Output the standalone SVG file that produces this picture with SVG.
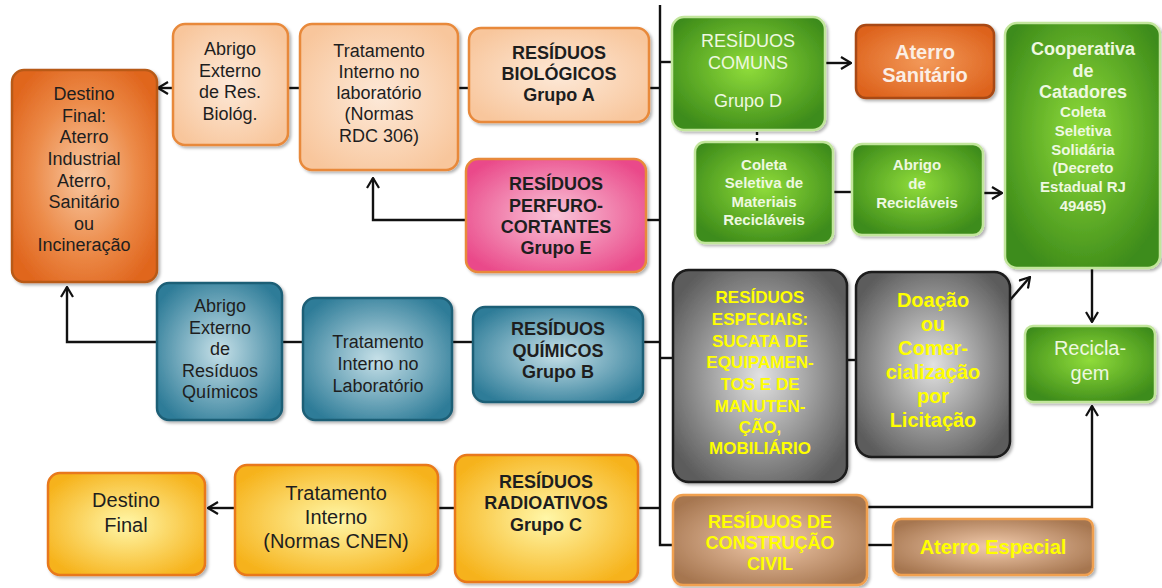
<svg xmlns="http://www.w3.org/2000/svg" width="1162" height="588" viewBox="0 0 1162 588">
<defs>
<radialGradient id="gOrange" cx="50%" cy="50%" r="60%"><stop offset="0" stop-color="#f8c8a2"/><stop offset="0.6" stop-color="#ec8a48"/><stop offset="1" stop-color="#e0661e"/></radialGradient>
<radialGradient id="gPeach" cx="50%" cy="50%" r="60%"><stop offset="0" stop-color="#fde9d8"/><stop offset="1" stop-color="#f8c69c"/></radialGradient>
<radialGradient id="gPink" cx="50%" cy="50%" r="60%"><stop offset="0" stop-color="#f9c4d8"/><stop offset="1" stop-color="#ea4a8a"/></radialGradient>
<radialGradient id="gGreen" cx="50%" cy="45%" r="60%"><stop offset="0" stop-color="#8fdc3a"/><stop offset="1" stop-color="#3e8c1a"/></radialGradient>
<radialGradient id="gAterro" cx="50%" cy="50%" r="60%"><stop offset="0" stop-color="#f39a5a"/><stop offset="1" stop-color="#dd621c"/></radialGradient>
<radialGradient id="gTeal" cx="50%" cy="50%" r="60%"><stop offset="0" stop-color="#c6e0e8"/><stop offset="1" stop-color="#2e7c98"/></radialGradient>
<radialGradient id="gGray" cx="50%" cy="50%" r="60%"><stop offset="0" stop-color="#e2e2e2"/><stop offset="1" stop-color="#5c5c5c"/></radialGradient>
<radialGradient id="gBrown" cx="50%" cy="50%" r="60%"><stop offset="0" stop-color="#f2cbac"/><stop offset="1" stop-color="#a67650"/></radialGradient>
<radialGradient id="gYellow" cx="50%" cy="50%" r="60%"><stop offset="0" stop-color="#fff7a8"/><stop offset="1" stop-color="#f6b21a"/></radialGradient>
<filter id="sh" x="-10%" y="-10%" width="125%" height="125%"><feDropShadow dx="2" dy="2" stdDeviation="1.5" flood-color="#000" flood-opacity="0.3"/></filter>
<marker id="arr" viewBox="0 0 12 14" refX="11" refY="7" markerWidth="12" markerHeight="14" markerUnits="userSpaceOnUse" orient="auto"><path d="M1,1 L11,7 L1,13" fill="none" stroke="#111" stroke-width="2.2"/></marker>
<style>
.b{filter:url(#sh);stroke-width:2.5}
.orange{fill:url(#gOrange);stroke:#b85a18}
.peach{fill:url(#gPeach);stroke:#e8893a}
.pink{fill:url(#gPink);stroke:#e8893a}
.green{fill:url(#gGreen);stroke:#c2e69c}
.aterro{fill:url(#gAterro);stroke:#a84a12}
.teal{fill:url(#gTeal);stroke:#1f5e76}
.gray{fill:url(#gGray);stroke:#1a1a1a}
.brown{fill:url(#gBrown);stroke:#f0a050}
.yellow{fill:url(#gYellow);stroke:#e8781a}
text{font-family:"Liberation Sans",Arial,sans-serif;text-anchor:middle}
.t{font-size:18px;fill:#1e1e1e}
.tb{font-size:18px;font-weight:bold;fill:#1e1e1e}
.w{fill:#eef8e0}
.y{fill:#ffff00;font-weight:bold}
.c{fill:none;stroke:#111;stroke-width:2.4}
</style>
</defs>

<g id="connectors">
<path class="c" d="M660,5 V545 H673"/>
<path class="c" d="M173,88 H158" marker-end="url(#arr)"/>
<path class="c" d="M288,88 H300"/>
<path class="c" d="M458,88 H469"/>
<path class="c" d="M649,88 H660"/>
<path class="c" d="M466,220 H373 V178" marker-end="url(#arr)"/>
<path class="c" d="M646,220 H660"/>
<path class="c" d="M660,62 H672"/>
<path class="c" d="M826,63 H851" marker-end="url(#arr)"/>
<path class="c" d="M757,132 V141" stroke-dasharray="3,3"/>
<path class="c" d="M833,192 H852"/>
<path class="c" d="M983,193 H1002" marker-end="url(#arr)"/>
<path class="c" d="M157,342 H67 V287" marker-end="url(#arr)"/>
<path class="c" d="M282,342 H303"/>
<path class="c" d="M452,342 H473"/>
<path class="c" d="M643,342 H660"/>
<path class="c" d="M660,358 H673"/>
<path class="c" d="M847,360 H856"/>
<path class="c" d="M1010,300 L1030,277" marker-end="url(#arr)"/>
<path class="c" d="M1092,268 V322" marker-end="url(#arr)"/>
<path class="c" d="M865,507 H1092 V406" marker-end="url(#arr)"/>
<path class="c" d="M867,545 H893"/>
<path class="c" d="M455,508 H438"/>
<path class="c" d="M235,508 H208" marker-end="url(#arr)"/>
<path class="c" d="M638,508 H660"/>
</g>

<g id="destino-final-1">
<rect class="b orange" x="12" y="70" width="145" height="212" rx="12"/>
<text class="t"><tspan x="84" y="100">Destino</tspan><tspan x="84" y="122">Final:</tspan><tspan x="84" y="143">Aterro</tspan><tspan x="84" y="165">Industrial</tspan><tspan x="84" y="187">Aterro,</tspan><tspan x="84" y="208">Sanitário</tspan><tspan x="84" y="230">ou</tspan><tspan x="84" y="251">Incineração</tspan></text>
</g>

<g id="abrigo-bio">
<rect class="b peach" x="173" y="24" width="115" height="121" rx="12"/>
<text class="t"><tspan x="230" y="55">Abrigo</tspan><tspan x="230" y="77">Externo</tspan><tspan x="230" y="98">de Res.</tspan><tspan x="230" y="120">Biológ.</tspan></text>
</g>

<g id="tratamento-bio">
<rect class="b peach" x="300" y="24" width="158" height="146" rx="12"/>
<text class="t"><tspan x="379" y="57">Tratamento</tspan><tspan x="379" y="78">Interno no</tspan><tspan x="379" y="99">laboratório</tspan><tspan x="379" y="120">(Normas</tspan><tspan x="379" y="142">RDC 306)</tspan></text>
</g>

<g id="residuos-biologicos">
<rect class="b peach" x="469" y="28" width="180" height="94" rx="12"/>
<text class="tb"><tspan x="559" y="59">RESÍDUOS</tspan><tspan x="559" y="80">BIOLÓGICOS</tspan><tspan x="559" y="101">Grupo A</tspan></text>
</g>

<g id="residuos-perfuro">
<rect class="b pink" x="466" y="159" width="180" height="113" rx="12"/>
<text class="tb"><tspan x="556" y="190">RESÍDUOS</tspan><tspan x="556" y="212">PERFURO-</tspan><tspan x="556" y="233">CORTANTES</tspan><tspan x="556" y="254">Grupo E</tspan></text>
</g>

<g id="residuos-comuns">
<rect class="b green" x="672" y="17" width="153" height="113" rx="12"/>
<text class="t w"><tspan x="748" y="47">RESÍDUOS</tspan><tspan x="748" y="69">COMUNS</tspan><tspan x="748" y="107">Grupo D</tspan></text>
</g>

<g id="aterro-sanitario">
<rect class="b aterro" x="856" y="25" width="138" height="73" rx="10"/>
<text style="font-size:20px;font-weight:bold;fill:#fbeee4"><tspan x="925" y="59">Aterro</tspan><tspan x="925" y="82">Sanitário</tspan></text>
</g>

<g id="coleta-seletiva">
<rect class="b green" x="695" y="142" width="138" height="101" rx="10"/>
<text style="font-size:15px;font-weight:bold" class="w"><tspan x="764" y="170">Coleta</tspan><tspan x="764" y="188">Seletiva de</tspan><tspan x="764" y="207">Materiais</tspan><tspan x="764" y="225">Recicláveis</tspan></text>
</g>

<g id="abrigo-reciclaveis">
<rect class="b green" x="852" y="144" width="131" height="91" rx="10"/>
<text style="font-size:15px;font-weight:bold" class="w"><tspan x="917" y="170">Abrigo</tspan><tspan x="917" y="189">de</tspan><tspan x="917" y="208">Recicláveis</tspan></text>
</g>

<g id="cooperativa">
<rect class="b green" x="1005" y="23" width="155" height="245" rx="12"/>
<text style="font-size:18px;font-weight:bold" class="w"><tspan x="1083" y="55">Cooperativa</tspan><tspan x="1083" y="77">de</tspan><tspan x="1083" y="98">Catadores</tspan></text>
<text style="font-size:15px;font-weight:bold" class="w"><tspan x="1083" y="117">Coleta</tspan><tspan x="1083" y="136">Seletiva</tspan><tspan x="1083" y="155">Solidária</tspan><tspan x="1083" y="173">(Decreto</tspan><tspan x="1083" y="192">Estadual RJ</tspan><tspan x="1083" y="211">49465)</tspan></text>
</g>

<g id="abrigo-quimicos">
<rect class="b teal" x="157" y="283" width="125" height="137" rx="12"/>
<text class="t"><tspan x="220" y="312">Abrigo</tspan><tspan x="220" y="334">Externo</tspan><tspan x="220" y="355">de</tspan><tspan x="220" y="377">Resíduos</tspan><tspan x="220" y="398">Químicos</tspan></text>
</g>

<g id="tratamento-quimicos">
<rect class="b teal" x="303" y="298" width="149" height="122" rx="12"/>
<text class="t"><tspan x="378" y="348">Tratamento</tspan><tspan x="378" y="370">Interno no</tspan><tspan x="378" y="392">Laboratório</tspan></text>
</g>

<g id="residuos-quimicos">
<rect class="b teal" x="473" y="307" width="170" height="95" rx="12"/>
<text class="tb"><tspan x="558" y="335">RESÍDUOS</tspan><tspan x="558" y="357">QUÍMICOS</tspan><tspan x="558" y="378">Grupo B</tspan></text>
</g>

<g id="residuos-especiais">
<rect class="b gray" x="673" y="270" width="174" height="212" rx="16"/>
<text style="font-size:17px" class="y"><tspan x="760" y="303">RESÍDUOS</tspan><tspan x="760" y="325">ESPECIAIS:</tspan><tspan x="760" y="347">SUCATA DE</tspan><tspan x="760" y="368">EQUIPAMEN-</tspan><tspan x="760" y="390">TOS E DE</tspan><tspan x="760" y="412">MANUTEN-</tspan><tspan x="760" y="433">ÇÃO,</tspan><tspan x="760" y="454">MOBILIÁRIO</tspan></text>
</g>

<g id="doacao">
<rect class="b gray" x="856" y="272" width="154" height="185" rx="16"/>
<text style="font-size:20px" class="y"><tspan x="933" y="307">Doação</tspan><tspan x="933" y="331">ou</tspan><tspan x="933" y="355">Comer-</tspan><tspan x="933" y="379">cialização</tspan><tspan x="933" y="403">por</tspan><tspan x="933" y="427">Licitação</tspan></text>
</g>

<g id="reciclagem">
<rect class="b green" x="1025" y="326" width="130" height="76" rx="8"/>
<text style="font-size:20px" class="w"><tspan x="1090" y="355">Recicla-</tspan><tspan x="1090" y="380">gem</tspan></text>
</g>

<g id="residuos-radioativos">
<rect class="b yellow" x="455" y="455" width="183" height="127" rx="12"/>
<text class="tb"><tspan x="546" y="488">RESÍDUOS</tspan><tspan x="546" y="509">RADIOATIVOS</tspan><tspan x="546" y="531">Grupo C</tspan></text>
</g>

<g id="tratamento-cnen">
<rect class="b yellow" x="235" y="465" width="203" height="110" rx="12"/>
<text style="font-size:20px;fill:#1e1e1e"><tspan x="336" y="500">Tratamento</tspan><tspan x="336" y="524">Interno</tspan><tspan x="336" y="548">(Normas CNEN)</tspan></text>
</g>

<g id="destino-final-2">
<rect class="b yellow" x="48" y="473" width="157" height="102" rx="12"/>
<text style="font-size:20px;fill:#1e1e1e"><tspan x="126" y="507">Destino</tspan><tspan x="126" y="532">Final</tspan></text>
</g>

<g id="residuos-construcao">
<rect class="b brown" x="673" y="495" width="194" height="90" rx="10"/>
<text style="font-size:18px" class="y"><tspan x="770" y="528">RESÍDUOS DE</tspan><tspan x="770" y="549">CONSTRUÇÃO</tspan><tspan x="770" y="570">CIVIL</tspan></text>
</g>

<g id="aterro-especial">
<rect class="b brown" x="893" y="519" width="200" height="56" rx="8"/>
<text style="font-size:20px" class="y"><tspan x="993" y="554">Aterro Especial</tspan></text>
</g>
</svg>
